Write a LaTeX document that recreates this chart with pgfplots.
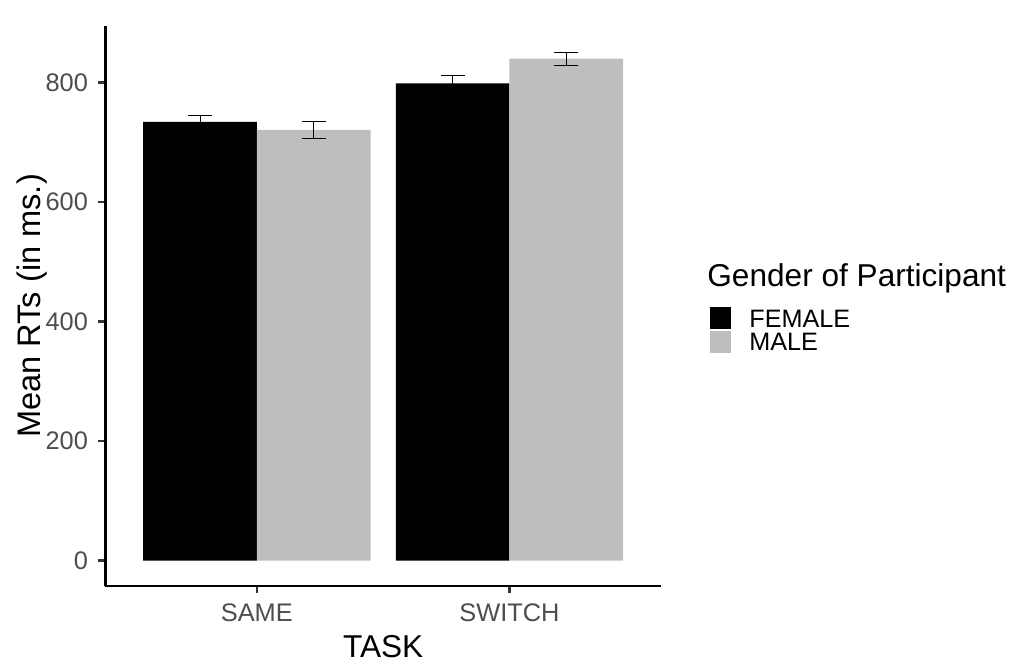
\documentclass[border=0pt]{standalone}
\usepackage{fontspec}
\setmainfont{Liberation Sans}
\usepackage{pgfplots}
\pgfplotsset{compat=1.18}
\definecolor{tickgray}{HTML}{333333}
\definecolor{labgray}{HTML}{4D4D4D}
\definecolor{malegray}{HTML}{BEBEBE}
\pgfplotsset{
 femkey/.style={legend image code/.code={\fill[black] (0bp,-4.9bp) rectangle (10.5bp,6.1bp);}},
 malekey/.style={legend image code/.code={\fill[malegray] (0bp,-4.9bp) rectangle (10.5bp,6.1bp);}},
}
\begin{document}
\begin{tikzpicture}
\begin{axis}[
  at={(0,0)}, anchor=south west,
  scale only axis, width=277.85bp, height=280bp,
  xmin=0.4, xmax=2.6, ymin=-42.6, ymax=894.6,
  clip=false,
  axis x line*=bottom, axis y line*=left,
  axis line style={line width=1.35bp, black, -},
  xtick={1,2}, xticklabels={SAME,SWITCH},
  ytick={0,200,400,600,800},
  tick align=outside, major tick length=3.5bp,
  tick style={tickgray, line width=1.2bp},
  /pgf/number format/assume math mode=true,
  ticklabel style={font=\fontsize{12.7bp}{15bp}\selectfont, text=labgray, inner sep=0pt},
  xticklabel style={anchor=north, yshift=-5.15bp},
  yticklabel style={anchor=east, xshift=-5bp},
  xlabel={TASK}, ylabel={Mean RTs (in ms.)},
  every axis x label/.style={at={(axis description cs:0.5,-0.12732)}, anchor=base,
    font=\fontsize{15.8bp}{18bp}\selectfont, inner sep=0pt},
  every axis y label/.style={at={(axis description cs:-0.1175,0.5)}, rotate=90, anchor=base,
    font=\fontsize{16.3bp}{18bp}\selectfont, inner sep=0pt},
  legend style={at={(axis description cs:1.0882,0.4982)}, anchor=north west, draw=none, fill=none,
    inner sep=0pt, row sep=0pt, column sep=9bp, cells={anchor=west},
    font=\fontsize{12.6bp}{15bp}\selectfont,
    nodes={inner sep=0pt, text height=9.5bp, text depth=1.5bp}},
]
\addplot[ybar, bar width=0.45, bar shift=0, fill=black, draw=none, femkey,
  error bars/.cd, y dir=both, y explicit,
  error bar style={line width=0.5bp, black},
  error mark options={rotate=90, mark size=6bp, line width=0.5bp, black}]
  coordinates {(0.775,734.2) +- (0,10.1) (1.775,798.4) +- (0,12.8)};
\addlegendentry{FEMALE}
\addplot[ybar, bar width=0.45, bar shift=0, fill=malegray, draw=none, malekey,
  error bars/.cd, y dir=both, y explicit,
  error bar style={line width=0.5bp, black},
  error mark options={rotate=90, mark size=6bp, line width=0.5bp, black}]
  coordinates {(1.225,720.6) +- (0,13.6) (2.225,839.9) +- (0,10.6)};
\addlegendentry{MALE}
\node[anchor=base west, inner sep=0pt, font=\fontsize{15.8bp}{18bp}\selectfont]
  at (axis description cs:1.08279,0.53393) {Gender of Participant};
\end{axis}
\pgfresetboundingbox
\path (-52.65bp,-41bp) rectangle (457.35bp,293bp);
\end{tikzpicture}
\end{document}
